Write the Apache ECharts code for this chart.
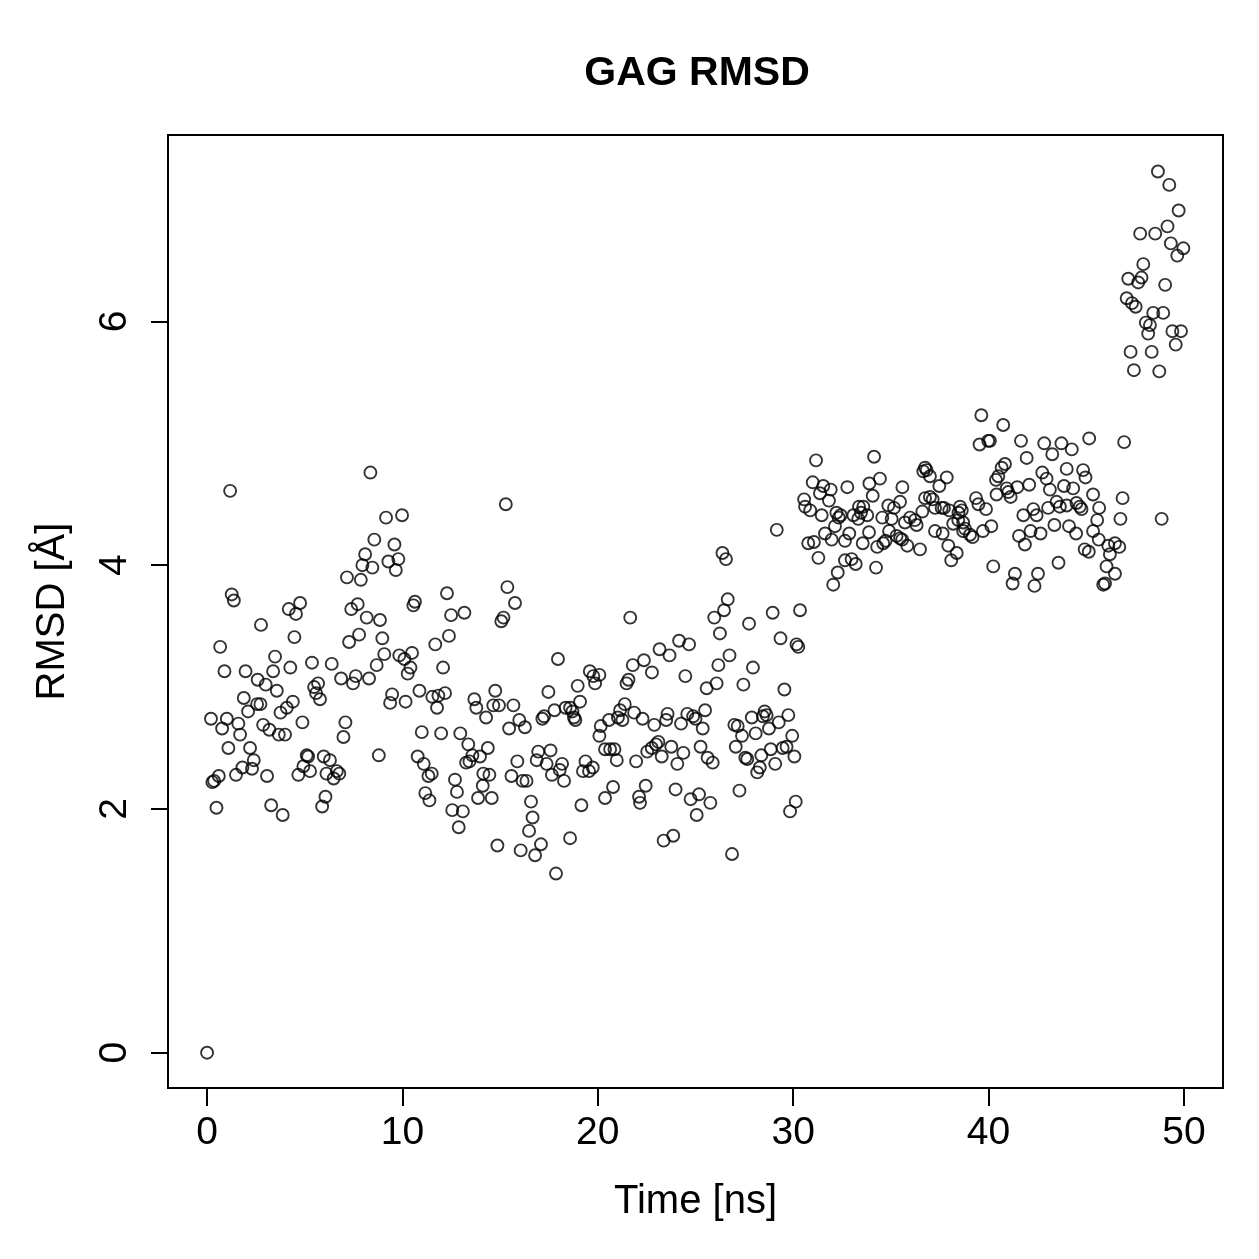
<!DOCTYPE html>
<html>
<head>
<meta charset="utf-8">
<title>GAG RMSD</title>
<script src="https://cdn.jsdelivr.net/npm/echarts@6.0.0/dist/echarts.min.js"></script>
<style>
  html, body { margin: 0; padding: 0; background: #fff; }
  #chart { width: 1259px; height: 1259px; }
</style>
</head>
<body>
<div id="chart"></div>
<script>
// simulation time (ns) and RMSD (Angstrom)
const timeNs = [
  // 0 - 10 ns
  0, 8.36, 1.18, 9.16, 9.98, 8.56, 9.59, 8.09, 7.95, 8.46,
  9.28, 9.66, 9.79, 7.16, 7.87, 1.26, 1.37, 4.18, 4.76, 4.55,
  2.76, 4.47, 7.38, 7.71, 8.17, 8.85, 7.27, 7.78, 8.97, 9.07,
  9.84, 0.67, 0.89, 1.97, 2.59, 3.00, 3.38, 3.48, 4.26, 3.57,
  5.37, 6.38, 6.86, 7.61, 7.47, 8.29, 8.68, 5.48, 5.68, 5.58,
  5.78, 9.47, 9.37, 10.16, 1.88, 2.56, 2.73, 2.10, 4.39, 4.08,
  3.76, 0.20, 1.01, 0.77, 1.60, 1.69, 2.87, 3.19, 3.67, 3.99,
  4.88, 7.08, 6.98, 1.09, 2.20, 2.39, 1.81, 2.30, 1.48, 3.07,
  0.60, 0.36, 0.27, 5.10, 5.17, 5.97, 6.29, 4.93, 5.27, 4.67,
  6.11, 6.64, 6.77, 6.48, 8.79, 0.48, 3.28, 3.87, 6.06, 5.89,
  // 10 - 20 ns
  15.29, 12.28, 10.64, 10.56, 15.37, 15.76, 15.17, 15.06, 12.49, 13.17,
  12.38, 11.68, 10.10, 10.49, 10.41, 10.27, 12.08, 17.96, 19.59, 19.77,
  19.86, 18.97, 17.47, 19.09, 10.87, 11.53, 11.84, 12.18, 11.77, 13.68,
  13.78, 14.75, 14.65, 14.94, 15.68, 14.28, 15.98, 16.27, 15.46, 17.16,
  17.25, 17.78, 18.35, 18.58, 18.70, 18.78, 18.85, 20.15, 20.08, 10.99,
  11.98, 12.96, 13.37, 14.37, 13.97, 13.58, 13.43, 13.26, 10.78, 11.09,
  11.50, 11.33, 11.17, 11.38, 12.69, 12.79, 14.14, 14.45, 14.11, 13.87,
  14.57, 12.55, 13.09, 12.88, 15.88, 15.58, 16.15, 16.35, 16.95, 17.58,
  16.87, 17.38, 18.17, 18.05, 17.65, 18.27, 19.37, 19.24, 19.55, 19.74,
  16.58, 16.66, 16.48, 17.09, 16.79, 16.05, 14.86, 18.58, 19.16, 17.86,
  // 20 - 30 ns
  29.16, 26.38, 26.56, 26.65, 26.46, 25.96, 26.25, 27.74, 28.95, 30.35,
  29.35, 30.17, 30.26, 21.66, 24.16, 24.67, 23.16, 23.67, 22.36, 21.79,
  22.77, 20.08, 21.57, 21.47, 24.48, 26.74, 26.17, 27.94, 26.08, 25.57,
  27.45, 29.55, 21.38, 21.14, 21.26, 21.03, 20.57, 21.86, 22.29, 22.89,
  23.57, 23.50, 24.26, 24.58, 24.88, 25.00, 25.49, 25.37, 20.37, 20.63,
  20.85, 20.97, 21.96, 23.10, 22.98, 22.76, 22.53, 23.27, 23.76, 24.38,
  24.07, 25.26, 25.62, 25.88, 20.78, 20.37, 22.45, 22.11, 22.16, 23.98,
  25.18, 24.75, 25.76, 25.06, 23.37, 23.86, 26.87, 27.25, 26.99, 27.16,
  27.38, 27.06, 27.88, 28.08, 28.54, 28.64, 28.45, 28.76, 29.26, 29.75,
  27.55, 27.65, 28.37, 28.29, 28.16, 28.85, 29.08, 29.46, 29.66, 29.95,
  30.06, 30.13, 29.84,
  // 30 - 40 ns
  39.63, 39.54, 39.98, 40.07, 31.17, 34.14, 36.75, 36.83, 36.66, 34.44,
  33.90, 31.00, 31.54, 31.92, 31.37, 31.83, 32.77, 37.00, 37.86, 37.48,
  35.59, 34.07, 30.56, 30.61, 30.87, 31.46, 32.21, 32.43, 32.33, 33.37,
  33.59, 33.47, 33.08, 33.33, 33.79, 34.87, 35.16, 35.47, 34.56, 35.04,
  36.75, 37.00, 37.14, 36.61, 37.26, 37.60, 37.72, 37.99, 38.54, 38.63,
  38.46, 39.36, 39.48, 39.87, 40.38, 40.50, 40.41, 32.14, 31.63, 31.97,
  32.65, 32.87, 33.88, 33.56, 34.30, 34.61, 34.73, 34.91, 35.29, 35.47,
  35.58, 35.84, 35.72, 35.98, 36.23, 36.32, 36.49, 37.26, 37.65, 38.19,
  38.45, 38.70, 38.79, 39.05, 39.18, 38.70, 39.71, 40.14, 37.94, 38.37,
  38.09, 30.77, 31.06, 31.29, 32.65, 32.99, 33.20, 32.28, 32.05, 34.24,
  40.24,
  // 40 - 47 ns
  40.75, 41.66, 42.85, 43.73, 44.26, 43.26, 45.15, 46.94, 41.95, 40.84,
  40.67, 42.75, 42.97, 44.00, 44.84, 44.96, 42.08, 41.47, 40.93, 41.01,
  41.13, 43.14, 43.86, 44.33, 45.35, 46.86, 42.29, 41.78, 42.46, 43.05,
  43.48, 43.65, 44.00, 44.50, 44.67, 44.76, 45.66, 45.56, 46.75, 48.86,
  43.37, 44.12, 44.48, 41.56, 41.86, 42.15, 42.66, 45.35, 45.64, 44.92,
  45.13, 46.13, 46.47, 46.69, 46.21, 46.04, 46.47, 45.87, 45.96, 43.58,
  41.35, 41.23, 42.53, 42.35,
  // 47 - 50 ns
  48.67, 49.25, 49.73, 49.16, 48.53, 47.76, 49.33, 49.97, 49.66, 47.92,
  47.15, 47.66, 47.83, 49.04, 47.07, 47.34, 47.53, 48.43, 48.94, 48.05,
  48.26, 48.17, 49.41, 49.85, 49.58, 47.27, 48.35, 47.44, 48.74
];

const rmsd = [
  // 0 - 10 ns
  0, 4.76, 4.61, 4.39, 4.41, 4.21, 4.17, 4.09, 4.00, 3.98,
  4.03, 3.96, 4.05, 3.90, 3.88, 3.76, 3.71, 3.64, 3.69, 3.60,
  3.51, 3.41, 3.64, 3.68, 3.57, 3.55, 3.37, 3.43, 3.40, 3.27,
  3.26, 3.33, 3.13, 3.13, 3.06, 3.02, 3.13, 3.25, 3.16, 2.97,
  3.20, 3.19, 3.07, 3.09, 3.03, 3.07, 3.18, 3.00, 3.03, 2.95,
  2.90, 2.94, 2.87, 2.88, 2.91, 2.86, 2.86, 2.80, 2.88, 2.83,
  2.79, 2.74, 2.74, 2.66, 2.70, 2.61, 2.69, 2.65, 2.61, 2.61,
  2.71, 2.71, 2.59, 2.50, 2.50, 2.40, 2.34, 2.33, 2.28, 2.27,
  2.27, 2.23, 2.22, 2.44, 2.43, 2.43, 2.40, 2.35, 2.31, 2.28,
  2.29, 2.31, 2.29, 2.25, 2.44, 2.01, 2.03, 1.95, 2.10, 2.02,
  // 10 - 20 ns
  4.50, 3.77, 3.70, 3.67, 3.82, 3.69, 3.57, 3.54, 3.59, 3.61,
  3.42, 3.35, 3.23, 3.28, 3.16, 3.11, 3.16, 3.23, 3.13, 3.09,
  3.03, 3.01, 2.96, 2.88, 2.97, 2.92, 2.93, 2.95, 2.83, 2.90,
  2.83, 2.97, 2.85, 2.85, 2.85, 2.75, 2.73, 2.67, 2.66, 2.74,
  2.76, 2.81, 2.83, 2.83, 2.80, 2.75, 2.73, 2.68, 2.60, 2.63,
  2.62, 2.62, 2.53, 2.50, 2.43, 2.44, 2.39, 2.38, 2.43, 2.37,
  2.29, 2.27, 2.13, 2.07, 2.24, 2.14, 2.29, 2.28, 2.19, 2.09,
  2.09, 1.99, 1.98, 1.85, 2.39, 2.27, 2.23, 2.23, 2.47, 2.48,
  2.40, 2.37, 2.37, 2.32, 2.28, 2.23, 2.39, 2.31, 2.31, 2.34,
  2.06, 1.93, 1.82, 1.71, 1.62, 1.66, 1.70, 1.76, 2.03, 1.47,
  // 20 - 30 ns
  4.29, 4.10, 4.05, 3.72, 3.63, 3.57, 3.44, 3.52, 3.61, 3.63,
  3.40, 3.35, 3.33, 3.57, 3.38, 3.35, 3.31, 3.26, 3.22, 3.18,
  3.12, 3.10, 3.06, 3.03, 3.09, 3.26, 3.18, 3.16, 3.03, 2.99,
  3.02, 2.98, 2.86, 2.81, 2.73, 2.75, 2.73, 2.79, 2.74, 2.69,
  2.78, 2.73, 2.70, 2.78, 2.76, 2.74, 2.81, 2.66, 2.49, 2.49,
  2.49, 2.40, 2.39, 2.55, 2.53, 2.50, 2.47, 2.43, 2.51, 2.46,
  2.37, 2.51, 2.42, 2.38, 2.18, 2.09, 2.19, 2.10, 2.05, 2.16,
  2.12, 2.08, 2.05, 1.95, 1.74, 1.78, 1.63, 2.15, 2.69, 2.68,
  2.60, 2.51, 2.75, 2.62, 2.80, 2.77, 2.76, 2.66, 2.71, 2.77,
  2.42, 2.41, 2.44, 2.34, 2.30, 2.49, 2.37, 2.50, 2.51, 2.60,
  2.43, 2.06, 1.98,
  // 30 - 40 ns
  5.23, 4.99, 5.02, 5.02, 4.86, 4.89, 4.80, 4.78, 4.77, 4.71,
  4.67, 4.68, 4.65, 4.62, 4.59, 4.53, 4.64, 4.73, 4.72, 4.65,
  4.64, 4.57, 4.54, 4.48, 4.45, 4.41, 4.43, 4.41, 4.39, 4.48,
  4.48, 4.43, 4.41, 4.38, 4.41, 4.49, 4.47, 4.52, 4.39, 4.38,
  4.55, 4.56, 4.54, 4.44, 4.47, 4.47, 4.47, 4.45, 4.48, 4.45,
  4.43, 4.55, 4.50, 4.46, 4.70, 4.73, 4.58, 4.32, 4.26, 4.21,
  4.20, 4.26, 4.27, 4.18, 4.15, 4.18, 4.20, 4.28, 4.24, 4.22,
  4.21, 4.16, 4.35, 4.39, 4.37, 4.33, 4.13, 4.28, 4.26, 4.34,
  4.37, 4.35, 4.30, 4.25, 4.23, 4.28, 4.28, 4.32, 4.16, 4.10,
  4.04, 4.18, 4.19, 4.06, 4.04, 4.05, 4.01, 3.94, 3.84, 3.98,
  3.99,
  // 40 - 47 ns
  5.15, 5.02, 5.00, 5.00, 4.95, 4.91, 5.04, 5.01, 4.88, 4.83,
  4.80, 4.76, 4.71, 4.79, 4.78, 4.72, 4.66, 4.64, 4.63, 4.60,
  4.56, 4.62, 4.65, 4.63, 4.58, 4.55, 4.46, 4.41, 4.41, 4.47,
  4.52, 4.48, 4.49, 4.51, 4.48, 4.46, 4.47, 4.37, 4.38, 4.38,
  4.33, 4.32, 4.26, 4.24, 4.17, 4.28, 4.26, 4.28, 4.21, 4.13,
  4.11, 4.16, 4.18, 4.15, 4.09, 3.99, 3.93, 3.84, 3.85, 4.02,
  3.93, 3.85, 3.93, 3.83,
  // 47 - 50 ns
  7.23, 7.12, 6.91, 6.78, 6.72, 6.72, 6.64, 6.60, 6.54, 6.47,
  6.35, 6.32, 6.36, 6.30, 6.19, 6.15, 6.12, 6.07, 6.07, 5.99,
  5.97, 5.90, 5.92, 5.92, 5.81, 5.75, 5.75, 5.60, 5.59
];

const xTicks = [0, 10, 20, 30, 40, 50];
const yTicks = [0, 2, 4, 6];

const points = timeNs.map((t, i) => [t, rmsd[i]]);

const font = '"Liberation Sans", Arial, Helvetica, sans-serif';
const chart = echarts.init(document.getElementById('chart'), null, { renderer: 'canvas' });

chart.setOption({
  animation: false,
  backgroundColor: '#fff',
  title: {
    text: 'GAG RMSD',
    left: 692,
    top: 48,
    textAlign: 'center',
    textStyle: { fontFamily: font, fontSize: 41, fontWeight: 'bold', color: '#000' }
  },
  grid: {
    left: 168, top: 135, right: 36, bottom: 171,
    show: true, borderColor: '#000', borderWidth: 2, backgroundColor: 'transparent'
  },
  xAxis: {
    type: 'value',
    min: -2, max: 52,
    name: 'Time [ns]',
    nameLocation: 'middle',
    nameGap: 94,
    nameTextStyle: { fontFamily: font, fontSize: 40, color: '#000' },
    axisLine: { show: true, onZero: false, lineStyle: { color: '#000', width: 2 } },
    axisTick: { show: true, customValues: xTicks, length: 18, lineStyle: { color: '#000', width: 2 } },
    axisLabel: { customValues: xTicks, margin: 26, fontFamily: font, fontSize: 39, color: '#000' },
    splitLine: { show: false }
  },
  yAxis: {
    type: 'value',
    min: -0.2896, max: 7.5296,
    name: 'RMSD [Å]',
    nameLocation: 'middle',
    nameGap: 95,
    nameTextStyle: { fontFamily: font, fontSize: 40, color: '#000' },
    axisLine: { show: true, onZero: false, lineStyle: { color: '#000', width: 2 } },
    axisTick: { show: true, customValues: yTicks, length: 17, lineStyle: { color: '#000', width: 2 } },
    axisLabel: { customValues: yTicks, rotate: 90, margin: 33, fontFamily: font, fontSize: 39, color: '#000' },
    splitLine: { show: false }
  },
  series: [{
    type: 'scatter',
    data: points,
    symbol: 'circle',
    symbolSize: 12,
    silent: true,
    itemStyle: { color: 'rgba(0,0,0,0)', borderColor: '#000', borderWidth: 1.9 }
  }]
});
</script>
</body>
</html>
